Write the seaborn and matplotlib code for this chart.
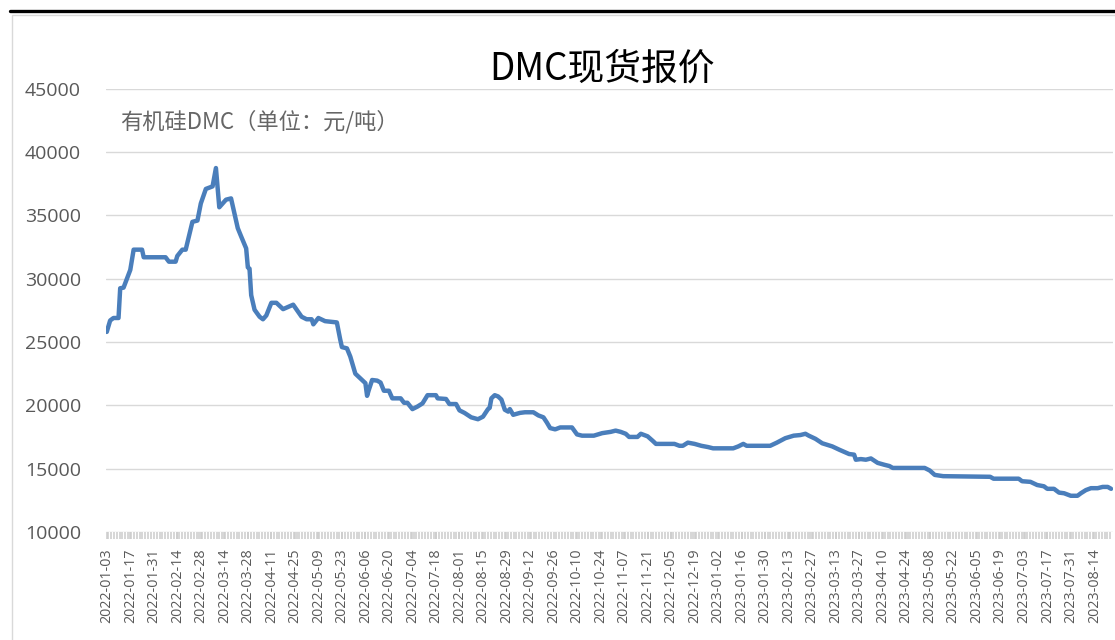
import pandas as pd
import matplotlib.pyplot as plt
import matplotlib.dates as mdates
import matplotlib.ticker as mticker
from matplotlib.lines import Line2D
from matplotlib.patches import Rectangle
import seaborn as sns

# DMC spot price
dates = [
    "2022-01-03", "2022-01-05", "2022-01-07", "2022-01-10", "2022-01-11", "2022-01-13",
    "2022-01-14", "2022-01-17", "2022-01-19", "2022-01-24", "2022-01-25", "2022-02-07",
    "2022-02-09", "2022-02-13", "2022-02-14", "2022-02-17", "2022-02-19", "2022-02-21",
    "2022-02-23", "2022-02-26", "2022-02-28", "2022-03-03", "2022-03-07", "2022-03-09",
    "2022-03-11", "2022-03-15", "2022-03-18", "2022-03-22", "2022-03-24", "2022-03-27",
    "2022-03-28", "2022-03-29", "2022-03-30", "2022-04-01", "2022-04-04", "2022-04-06",
    "2022-04-08", "2022-04-11", "2022-04-14", "2022-04-18", "2022-04-24", "2022-04-29",
    "2022-05-02", "2022-05-05", "2022-05-06", "2022-05-09", "2022-05-13", "2022-05-20",
    "2022-05-22", "2022-05-23", "2022-05-26", "2022-05-28", "2022-05-31", "2022-06-04",
    "2022-06-06", "2022-06-07", "2022-06-08", "2022-06-10", "2022-06-13", "2022-06-15",
    "2022-06-17", "2022-06-20", "2022-06-22", "2022-06-27", "2022-06-29", "2022-07-01",
    "2022-07-04", "2022-07-07", "2022-07-10", "2022-07-13", "2022-07-18", "2022-07-19",
    "2022-07-24", "2022-07-26", "2022-07-30", "2022-08-01", "2022-08-04", "2022-08-08",
    "2022-08-12", "2022-08-15", "2022-08-18", "2022-08-19", "2022-08-20", "2022-08-22",
    "2022-08-24", "2022-08-26", "2022-08-28", "2022-08-30", "2022-08-31", "2022-09-02",
    "2022-09-06", "2022-09-09", "2022-09-14", "2022-09-17", "2022-09-20", "2022-09-22",
    "2022-09-24", "2022-09-27", "2022-09-30", "2022-10-07", "2022-10-10", "2022-10-13",
    "2022-10-20", "2022-10-25", "2022-10-30", "2022-11-02", "2022-11-05", "2022-11-08",
    "2022-11-10", "2022-11-15", "2022-11-17", "2022-11-21", "2022-11-24", "2022-11-26",
    "2022-12-07", "2022-12-10", "2022-12-12", "2022-12-15", "2022-12-19", "2022-12-23",
    "2022-12-27", "2022-12-30", "2023-01-11", "2023-01-14", "2023-01-17", "2023-01-19",
    "2023-02-02", "2023-02-06", "2023-02-11", "2023-02-16", "2023-02-20", "2023-02-23",
    "2023-02-25", "2023-03-01", "2023-03-05", "2023-03-11", "2023-03-15", "2023-03-21",
    "2023-03-24", "2023-03-25", "2023-03-28", "2023-03-31", "2023-04-03", "2023-04-07",
    "2023-04-11", "2023-04-14", "2023-04-16", "2023-05-05", "2023-05-08", "2023-05-11",
    "2023-05-16", "2023-06-13", "2023-06-15", "2023-06-30", "2023-07-02", "2023-07-07",
    "2023-07-11", "2023-07-15", "2023-07-17", "2023-07-21", "2023-07-24", "2023-07-27",
    "2023-07-31", "2023-08-04", "2023-08-06", "2023-08-09", "2023-08-12", "2023-08-16",
    "2023-08-19", "2023-08-22", "2023-08-24",
]
prices = [
    25800, 26700, 26900, 26900, 29250, 29300,
    29650, 30700, 32300, 32300, 31700, 31700,
    31350, 31350, 31800, 32300, 32300, 33400,
    34500, 34600, 35950, 37100, 37300, 38750,
    35650, 36250, 36350, 34000, 33350, 32400,
    30900, 30800, 28700, 27550, 27000, 26800,
    27100, 28100, 28100, 27600, 27950, 27000,
    26800, 26800, 26400, 26900, 26650, 26550,
    25200, 24600, 24500, 23850, 22500, 22000,
    21750, 20750, 21200, 22000, 21950, 21800,
    21150, 21150, 20550, 20550, 20200, 20200,
    19700, 19900, 20150, 20800, 20800, 20550,
    20500, 20100, 20100, 19600, 19400, 19050,
    18900, 19100, 19700, 19800, 20550, 20800,
    20700, 20450, 19650, 19500, 19700, 19250,
    19400, 19450, 19450, 19200, 19050, 18650,
    18200, 18100, 18250, 18250, 17700, 17600,
    17600, 17800, 17900, 18000, 17900, 17750,
    17500, 17500, 17750, 17550, 17200, 16950,
    16950, 16800, 16800, 17050, 16950, 16800,
    16700, 16600, 16600, 16750, 16950, 16800,
    16800, 17050, 17400, 17600, 17650, 17750,
    17600, 17350, 17000, 16750, 16500, 16150,
    16100, 15700, 15750, 15700, 15800, 15450,
    15300, 15200, 15050, 15050, 14850, 14500,
    14400, 14350, 14200, 14200, 14000, 13950,
    13700, 13600, 13400, 13400, 13100, 13050,
    12850, 12850, 13050, 13300, 13450, 13450,
    13550, 13550, 13400,
]
tick_dates = pd.date_range("2022-01-03", "2023-08-14", freq="14D")
y_ticks = [10000, 15000, 20000, 25000, 30000, 35000, 40000, 45000]

title = "DMC现货报价"
subtitle = "有机硅DMC（单位：元/吨）"

sns.set_theme(style="white")
plt.rcParams['font.family'] = ['Open Sans', 'Noto Sans CJK SC', 'DejaVu Sans']
cjk = ['Noto Sans CJK SC', 'DejaVu Sans']

df = pd.DataFrame({"date": pd.to_datetime(dates), "price": prices})

fig = plt.figure(figsize=(11.15, 6.4), dpi=100)
ax = fig.add_axes([0.095, 0.169, 0.903, 0.692])

sns.lineplot(data=df, x="date", y="price", ax=ax, color="#4a7ebb",
             linewidth=3.2, solid_capstyle="round", solid_joinstyle="round")

ax.set_ylim(10000, 45000)
ax.set_yticks(y_ticks)
ax.set_xlim(mdates.date2num(pd.Timestamp("2022-01-02 12:00")),
            mdates.date2num(pd.Timestamp("2023-08-25")))
ax.xaxis.set_major_locator(mticker.FixedLocator(mdates.date2num(tick_dates)))
ax.xaxis.set_major_formatter(mdates.DateFormatter("%Y-%m-%d"))
ax.xaxis.set_minor_locator(mticker.MultipleLocator(1.7))

ax.grid(axis="y", color="#d9d9d9", linewidth=1)
ax.set_axisbelow(True)
for s in ax.spines.values():
    s.set_visible(False)

ax.set_xlabel("")
ax.set_ylabel("")
ax.tick_params(axis="y", length=0, pad=18, labelsize=14, labelcolor="#595959")
ax.tick_params(axis="x", which="both", direction="out", bottom=True,
               length=5, width=1.1, color="#cccccc", pad=7,
               labelsize=10.3, labelcolor="#595959", labelrotation=90)

fig.text(0.54, 1 - 69 / 640, title, ha="center", va="center",
         fontsize=26.5, color="#000000", family=cjk)
fig.text(120 / 1115, 1 - 122 / 640, subtitle, ha="left", va="center",
         fontsize=16, color="#666666", family=cjk)

# chart frame like the spreadsheet export
fig.add_artist(Rectangle((12 / 1115, -0.05), 1.2, 1.05 - 15 / 640, transform=fig.transFigure,
                         fill=False, edgecolor="#d9d9d9", linewidth=1))
fig.add_artist(Line2D([10 / 1115, 1], [1 - 10.5 / 640] * 2, color="black", linewidth=2.4))

fig.savefig("out.png", dpi=100)
